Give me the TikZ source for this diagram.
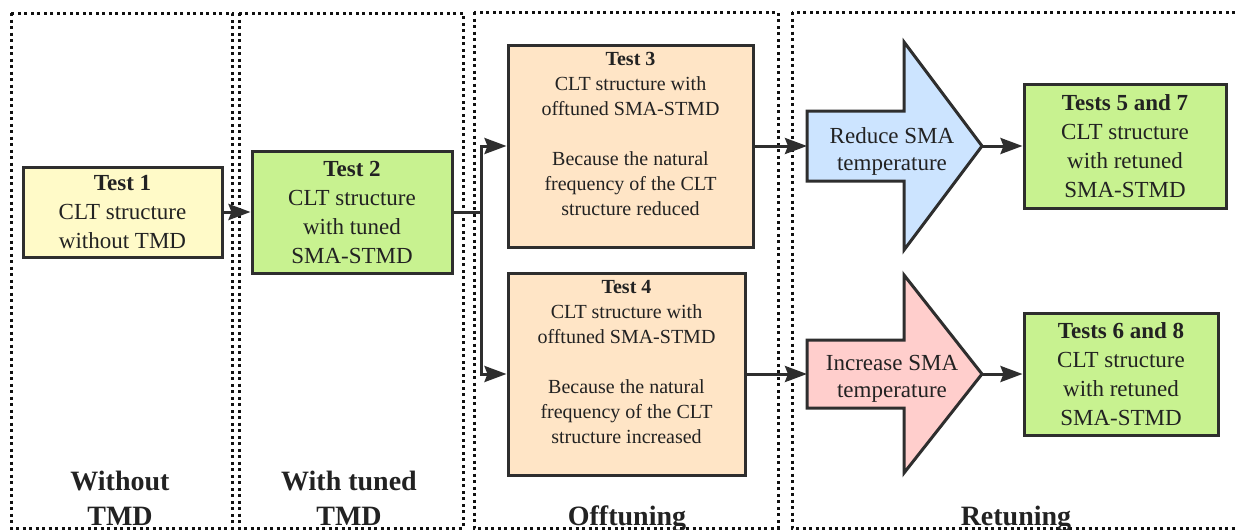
\documentclass[tikz,border=0pt]{standalone}
\usepackage{fontspec}
\setmainfont{Liberation Serif}
\usetikzlibrary{arrows.meta}
\definecolor{ln}{HTML}{2E2E2E}
\definecolor{dots}{HTML}{111111}
\definecolor{txt}{HTML}{222222}
\definecolor{yel}{HTML}{FFFAC8}
\definecolor{grn}{HTML}{C8F290}
\definecolor{pch}{HTML}{FFE5C6}
\definecolor{blu}{HTML}{CCE4FF}
\definecolor{pnk}{HTML}{FFCECC}
\begin{document}
\begin{tikzpicture}[x=1pt,y=-1pt,
  panel/.style={draw=dots, line width=3pt, dash pattern=on 3pt off 3.5pt},
  box/.style={draw=ln, line width=3pt, align=center, inner sep=0pt, text=txt,
    font=\fontsize{23}{29}\selectfont},
  sbox/.style={box, font=\fontsize{20}{25}\selectfont},
  ashape/.style={draw=ln, line width=3pt, line join=miter},
  atext/.style={align=center, inner sep=0pt, text=txt, font=\fontsize{23}{27}\selectfont},
  lab/.style={align=center, inner sep=0pt, text=txt, font=\bfseries\fontsize{28}{35}\selectfont},
  conn/.style={draw=ln, line width=3pt, -{Stealth[length=22pt,width=16pt,inset=3pt]}}]
\useasboundingbox (0,0) rectangle (1235,530);
\fill[white] (0,0) rectangle (1235,530);
% panels
\draw[panel] (11,13) rectangle (232,528);
\draw[panel] (239,13) rectangle (463,528);
\draw[panel] (474,12) rectangle (778,528);
\draw[panel] (792,12) rectangle (1245,528);
% boxes
\node[box, fill=yel, minimum width=199pt, minimum height=90pt] (t1) at (122.5,212)
  {\textbf{Test 1}\\CLT structure\\without TMD};
\node[box, fill=grn, minimum width=200pt, minimum height=122pt] (t2) at (352,212)
  {\textbf{Test 2}\\CLT structure\\with tuned\\SMA-STMD};
\node[sbox, fill=pch, minimum width=245pt, minimum height=202pt] (t3) at (630.5,146)
  {\textbf{Test 3}\\CLT structure with\\offtuned SMA-STMD\\[25pt]Because the natural\\frequency of the CLT\\structure reduced\\ \mbox{}};
\node[sbox, fill=pch, minimum width=237pt, minimum height=202pt] (t4) at (626.5,374)
  {\textbf{Test 4}\\CLT structure with\\offtuned SMA-STMD\\[25pt]Because the natural\\frequency of the CLT\\structure increased\\ \mbox{}};
\node[box, fill=grn, minimum width=202pt, minimum height=124pt] (t57) at (1125,146)
  {\textbf{Tests 5 and 7}\\CLT structure\\with retuned\\SMA-STMD};
\node[box, fill=grn, minimum width=194pt, minimum height=122pt] (t68) at (1121,374)
  {\textbf{Tests 6 and 8}\\CLT structure\\with retuned\\SMA-STMD};
% block arrows
\draw[ashape, fill=blu] (807,111) -- (904,111) -- (904,42) -- (982,146) -- (904,250) -- (904,181) -- (807,181) -- cycle;
\coordinate (a1w) at (807,146);
\coordinate (a1t) at (982,146);
\node[atext] (a1) at (892,151) {Reduce SMA\\temperature};
\draw[ashape, fill=pnk] (807,340) -- (904,340) -- (904,275) -- (982,374) -- (904,473) -- (904,408) -- (807,408) -- cycle;
\coordinate (a2w) at (807,374);
\coordinate (a2t) at (982,374);
\node[atext] (a2) at (892,379) {Increase SMA\\temperature};
% connectors
\draw[conn] (t1) -- (t2);
\draw[conn] (t2.east) -- ++(28,0) |- (t3.west);
\draw[conn] (t2.east) -- ++(28,0) |- (t4.west);
\draw[conn] (t3.east) -- (a1w);
\draw[conn] (t4.east) -- (a2w);
\draw[conn] (a1t) -- (t57.west);
\draw[conn] (a2t) -- (t68.west);
% labels
\node[lab, anchor=base] (l1) at (120,525) {Without\\TMD};
\node[lab, anchor=base] (l2) at (349,525) {With tuned\\TMD};
\node[lab, anchor=base] (l3) at (627,525) {Offtuning};
\node[lab, anchor=base] (l4) at (1016,525) {Retuning};
\end{tikzpicture}
\end{document}
